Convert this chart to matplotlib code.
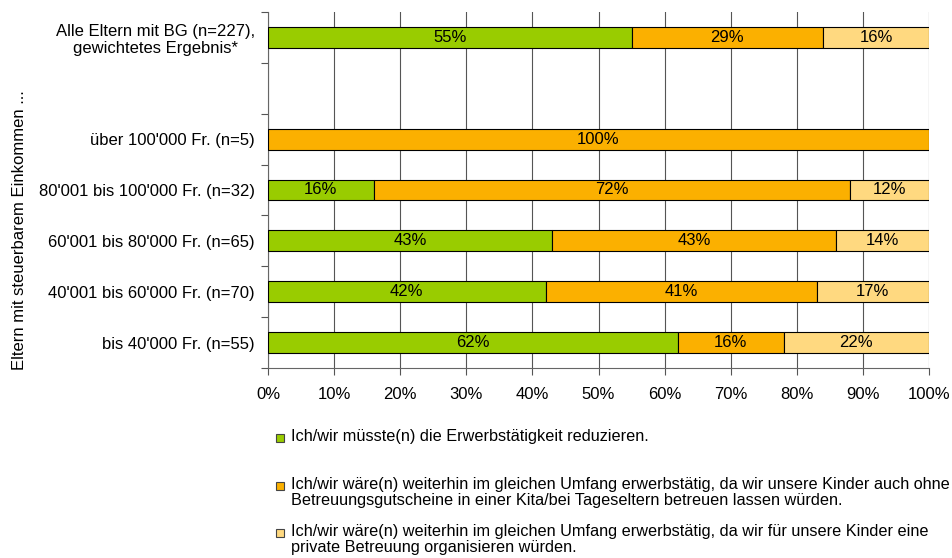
import numpy as np
import matplotlib.pyplot as plt
from matplotlib.patches import Rectangle

plt.rcParams['font.family'] = ['Liberation Sans', 'DejaVu Sans']

# data (bottom to top), empty slot between groups and total
categories = ["bis 40'000 Fr. (n=55)",
              "40'001 bis 60'000 Fr. (n=70)",
              "60'001 bis 80'000 Fr. (n=65)",
              "80'001 bis 100'000 Fr. (n=32)",
              "über 100'000 Fr. (n=5)",
              "",
              "Alle Eltern mit BG (n=227),\ngewichtetes Ergebnis*"]
reduce_work = [62, 42, 43, 16, 0, 0, 55]
same_kita = [16, 41, 43, 72, 100, 0, 29]
same_private = [22, 17, 14, 12, 0, 0, 16]

series = [reduce_work, same_kita, same_private]
colors = ['#99CC00', '#FBB000', '#FFD980']
legend_labels = [
    "Ich/wir müsste(n) die Erwerbstätigkeit reduzieren.",
    "Ich/wir wäre(n) weiterhin im gleichen Umfang erwerbstätig, da wir unsere Kinder auch ohne\n"
    "Betreuungsgutscheine in einer Kita/bei Tageseltern betreuen lassen würden.",
    "Ich/wir wäre(n) weiterhin im gleichen Umfang erwerbstätig, da wir für unsere Kinder eine\n"
    "private Betreuung organisieren würden.",
]
y_title = "Eltern mit steuerbarem Einkommen ..."

W, H = 952, 558
FS = 12
fig = plt.figure(figsize=(W / 100, H / 100), dpi=100)
ax = fig.add_axes([268 / W, 1 - 368 / H, (929 - 268) / W, (368 - 12) / H])

y = np.arange(len(categories))
left = np.zeros(len(categories))
for vals, col in zip(series, colors):
    vals = np.array(vals, dtype=float)
    mask = vals > 0
    ax.barh(y[mask], vals[mask], left=left[mask], height=0.41, color=col,
            edgecolor='black', linewidth=0.8, zorder=3)
    for yi, v, l in zip(y[mask], vals[mask], left[mask]):
        ax.text(l + v / 2, yi, f"{v:.0f}%", ha='center', va='center',
                fontsize=FS, zorder=4)
    left += vals

ax.set_xlim(0, 100)
ax.set_ylim(-0.5, len(categories) - 0.5)
ax.set_xticks(np.arange(0, 101, 10))
ax.set_xticklabels([f"{t}%" for t in range(0, 101, 10)], fontsize=FS)
ax.set_yticks(y)
ax.set_yticklabels(categories, fontsize=FS, multialignment='center')
ax.set_yticks(np.arange(-0.5, len(categories), 1), minor=True)
ax.tick_params(axis='y', which='major', length=0, pad=9.5)
ax.tick_params(axis='y', which='minor', length=5, color='#555555', width=0.8)
ax.tick_params(axis='x', length=5, color='#555555', width=0.8, pad=9)

ax.grid(axis='x', color='#555555', linewidth=0.8, zorder=0)
ax.set_axisbelow(True)
for s in ['top', 'right']:
    ax.spines[s].set_visible(False)
for s in ['left', 'bottom']:
    ax.spines[s].set_color('#666666')
    ax.spines[s].set_linewidth(0.8)

fig.text(20 / W, 1 - 230 / H, y_title, rotation=90, ha='center', va='center',
         fontsize=FS)

# legend drawn by hand to keep the uneven spacing
legend_y = [438, 486, 533]
for lab, col, ly in zip(legend_labels, colors, legend_y):
    fig.patches.append(Rectangle((276 / W, 1 - (ly + 4) / H), 8 / W, 8 / H,
                                 transform=fig.transFigure, facecolor=col,
                                 edgecolor='#444444', linewidth=0.8))
    fig.text(291 / W, 1 - (ly - 9) / H, lab, ha='left', va='top', fontsize=11.7,
             linespacing=1.05)

fig.savefig('out.png', dpi=100)
